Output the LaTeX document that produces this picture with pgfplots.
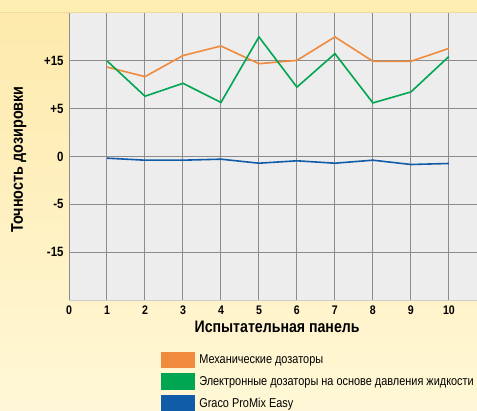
\documentclass[border=0pt]{standalone}
\usepackage{fontspec}
\setmainfont{Liberation Sans}[FakeStretch=0.85]
\usepackage{pgfplots}
\pgfplotsset{compat=1.18}
\definecolor{corange}{RGB}{240,138,60}
\definecolor{cgreen}{RGB}{0,166,81}
\definecolor{cblue}{RGB}{16,92,168}
\definecolor{plotbg}{RGB}{237,237,237}
\definecolor{gridc}{RGB}{140,140,140}
\definecolor{bgtop}{RGB}{253,233,170}
\definecolor{bgbot}{RGB}{255,247,214}
\definecolor{strip}{RGB}{254,238,178}
\definecolor{stripline}{RGB}{240,218,160}
\begin{document}
\begin{tikzpicture}[x=1bp,y=1bp]
\shade[top color=bgtop, bottom color=bgbot] (0,0) rectangle (477,410);
\fill[strip] (0,397) rectangle (477,410);
\draw[stripline, line width=1bp] (0,397.5) -- (477,397.5);
\begin{axis}[
  at={(69bp,110bp)}, anchor=south west,
  scale only axis, width=408bp, height=287bp,
  xmin=0, xmax=10.74, ymin=-3, ymax=3,
  axis background/.style={fill=plotbg},
  axis line style={draw=none},
  xtick={0,...,10},
  ytick={-2,-1,0,1,2},
  yticklabels={-15,-5,0,+5,+15},
  /pgf/number format/assume math mode=true,
  grid=major,
  major grid style={gridc, line width=1bp},
  tick style={draw=none},
  yticklabel style={font=\bfseries\fontsize{13.5}{15}\selectfont, xshift=-2bp},
  xticklabel style={font=\bfseries\fontsize{12.5}{14}\selectfont, yshift=-2bp},
  xlabel={Испытательная панель},
  ylabel={Точность дозировки},
  xlabel style={font=\bfseries\fontsize{16.7}{19}\selectfont, at={(axis description cs:0.51,-0.094)}, anchor=center},
  ylabel style={font=\bfseries\fontsize{17}{19}\selectfont, at={(axis description cs:-0.123,0.49)}, anchor=center},
  legend style={at={(axis description cs:0.2255,-0.18)}, anchor=north west, draw=none, fill=none,
    font=\fontsize{12.9}{14}\selectfont, row sep=5bp, inner sep=0pt, legend cell align=left},
  legend image code/.code={\fill[#1] (0bp,-7.5bp) rectangle (32bp,7.5bp); \path (34.5bp,0bp);},
  clip=false,
]
\addplot[corange, line width=1.6bp] coordinates {
 (1,1.87) (2,1.67) (3,2.11) (4,2.31) (5,1.94) (6,2.01) (7,2.50) (8,1.99) (9,1.99) (10,2.26)};
\addlegendentry{Механические дозаторы}
\addplot[cgreen, line width=1.6bp] coordinates {
 (1,2.00) (2,1.26) (3,1.53) (4,1.13) (5,2.50) (6,1.45) (7,2.15) (8,1.12) (9,1.35) (10,2.09)};
\addlegendentry{Электронные дозаторы на основе давления жидкости}
\addplot[cblue, line width=1.6bp] coordinates {
 (1,-0.035) (2,-0.077) (3,-0.077) (4,-0.056) (5,-0.14) (6,-0.09) (7,-0.14) (8,-0.077) (9,-0.167) (10,-0.146)};
\addlegendentry{Graco ProMix Easy}
\draw[gridc, line width=1bp] (axis cs:0,-3) -- (axis cs:0,3);
\draw[black!20, line width=1bp] (axis cs:0,-3) -- (axis cs:10.74,-3);
\end{axis}
\pgfresetboundingbox
\path (0,0) rectangle (477,410);
\end{tikzpicture}
\end{document}
